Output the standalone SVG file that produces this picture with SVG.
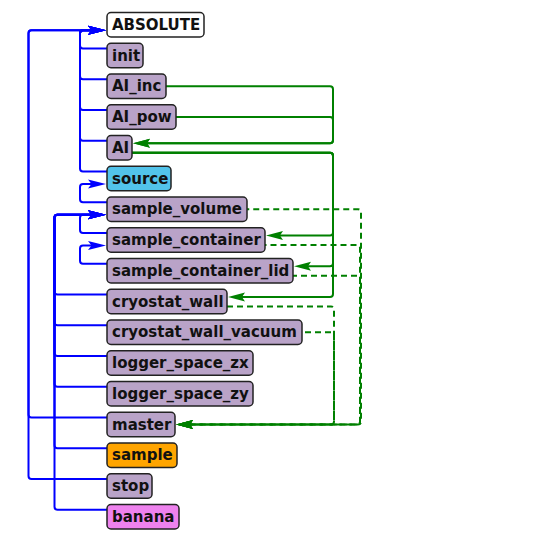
<svg xmlns="http://www.w3.org/2000/svg" width="555" height="543" viewBox="0 0 555 543">
<style>
.n rect{stroke:#222;stroke-width:1.5}
.n text{font-family:"DejaVu Sans","Liberation Sans",sans-serif;font-weight:bold;font-size:15px;fill:#111}
.p rect{fill:#b9a3c8}
.b{fill:none;stroke:#0000ff;stroke-width:2;marker-end:url(#ab)}
.g{fill:none;stroke:#008000;stroke-width:2;marker-end:url(#ag)}
.d{fill:none;stroke:#008000;stroke-width:2;stroke-dasharray:6 4;marker-end:url(#ag)}
</style>
<defs>
<marker id="ab" markerUnits="userSpaceOnUse" markerWidth="20" markerHeight="12" viewBox="-13 -6 20 12" refX="0" refY="0" orient="auto" overflow="visible">
<path d="M6,0 L-12,-4.6 L-8.5,0 L-12,4.6 z" fill="#0000ff"/>
</marker>
<marker id="ag" markerUnits="userSpaceOnUse" markerWidth="20" markerHeight="12" viewBox="-13 -6 20 12" refX="0" refY="0" orient="auto" overflow="visible">
<path d="M6,0 L-11,-4.4 L-8,0 L-11,4.4 z" fill="#008000"/>
</marker>
</defs>
<g id="connectors">
<path class="b" d="M107 48.5H83Q80 48.5 80 45.5V33.25Q80 30.25 83 30.25H100"/>
<path class="b" d="M107 79.25H83Q80 79.25 80 76.25V33.25Q80 30.25 83 30.25H100"/>
<path class="b" d="M107 110H83Q80 110 80 107V33.25Q80 30.25 83 30.25H100"/>
<path class="b" d="M107 140.75H83Q80 140.75 80 137.75V33.25Q80 30.25 83 30.25H100"/>
<path class="b" d="M107 171.5H83Q80 171.5 80 168.5V33.25Q80 30.25 83 30.25H100"/>
<path class="b" d="M107 417.5H31.5Q28.5 417.5 28.5 414.5V33.25Q28.5 30.25 31.5 30.25H100"/>
<path class="b" d="M107 479H31.5Q28.5 479 28.5 476V33.25Q28.5 30.25 31.5 30.25H100"/>
<path class="b" d="M107 202.25H83Q80 202.25 80 199.25V187Q80 184 83 184H100"/>
<path class="b" d="M107 233H83Q80 233 80 230V217.75Q80 214.75 83 214.75H100"/>
<path class="b" d="M107 263.75H83Q80 263.75 80 260.75V248.5Q80 245.5 83 245.5H100"/>
<path class="b" d="M107 294.5H57.5Q54.5 294.5 54.5 291.5V217.75Q54.5 214.75 57.5 214.75H100"/>
<path class="b" d="M107 325.25H57.5Q54.5 325.25 54.5 322.25V217.75Q54.5 214.75 57.5 214.75H100"/>
<path class="b" d="M107 356H57.5Q54.5 356 54.5 353V217.75Q54.5 214.75 57.5 214.75H100"/>
<path class="b" d="M107 386.75H57.5Q54.5 386.75 54.5 383.75V217.75Q54.5 214.75 57.5 214.75H100"/>
<path class="b" d="M107 448.25H57.5Q54.5 448.25 54.5 445.25V217.75Q54.5 214.75 57.5 214.75H100"/>
<path class="b" d="M107 509.75H57.5Q54.5 509.75 54.5 506.75V217.75Q54.5 214.75 57.5 214.75H100"/>
<path class="g" d="M166 86.25H330Q333 86.25 333 89.25V140.25Q333 143.25 330 143.25H139"/>
<path class="g" d="M176 117H330Q333 117 333 120V140.25Q333 143.25 330 143.25H139"/>
<path class="g" d="M132 152.75H330Q333 152.75 333 155.75V232.5Q333 235.5 330 235.5H272"/>
<path class="g" d="M132 152.75H330Q333 152.75 333 155.75V263.25Q333 266.25 330 266.25H300"/>
<path class="g" d="M132 152.75H330Q333 152.75 333 155.75V294Q333 297 330 297H234"/>
<path class="d" stroke-dashoffset="3.75" d="M247 209.25H358Q361 209.25 361 212.25V421.5Q361 424.5 358 424.5H182"/>
<path class="d" stroke-dashoffset="4.5" d="M265 245H357Q360 245 360 248V421.5Q360 424.5 357 424.5H182"/>
<path class="d" stroke-dashoffset="2" d="M293 275.75H357Q360 275.75 360 278.75V421.5Q360 424.5 357 424.5H182"/>
<path class="d" stroke-dashoffset="0" d="M227 306.5H331Q334 306.5 334 309.5V421.5Q334 424.5 331 424.5H182"/>
<path class="d" stroke-dashoffset="7" d="M302 332.25H331Q334 332.25 334 335.25V421.5Q334 424.5 331 424.5H182"/>
</g>
<g id="ABSOLUTE" class="n"><rect x="107" y="12.5" width="97" height="24.5" rx="4" fill="#fff"/><text x="112" y="29.75">ABSOLUTE</text></g>
<g id="init" class="n p"><rect x="107" y="43.25" width="36" height="24.5" rx="4"/><text x="112" y="60.5">init</text></g>
<g id="AI_inc" class="n p"><rect x="107" y="74" width="59" height="24.5" rx="4"/><text x="112" y="91.25">AI_inc</text></g>
<g id="AI_pow" class="n p"><rect x="107" y="104.75" width="69" height="24.5" rx="4"/><text x="112" y="122">AI_pow</text></g>
<g id="AI" class="n p"><rect x="107" y="135.5" width="25" height="24.5" rx="4"/><text x="112" y="152.75">AI</text></g>
<g id="source" class="n"><rect x="107" y="166.25" width="64" height="24.5" rx="4" fill="#52c3ea"/><text x="112" y="183.5">source</text></g>
<g id="sample_volume" class="n p"><rect x="107" y="197" width="140" height="24.5" rx="4"/><text x="112" y="214.25">sample_volume</text></g>
<g id="sample_container" class="n p"><rect x="107" y="227.75" width="158" height="24.5" rx="4"/><text x="112" y="245">sample_container</text></g>
<g id="sample_container_lid" class="n p"><rect x="107" y="258.5" width="186" height="24.5" rx="4"/><text x="112" y="275.75">sample_container_lid</text></g>
<g id="cryostat_wall" class="n p"><rect x="107" y="289.25" width="120" height="24.5" rx="4"/><text x="112" y="306.5">cryostat_wall</text></g>
<g id="cryostat_wall_vacuum" class="n p"><rect x="107" y="320" width="195" height="24.5" rx="4"/><text x="112" y="337.25">cryostat_wall_vacuum</text></g>
<g id="logger_space_zx" class="n p"><rect x="107" y="350.75" width="146" height="24.5" rx="4"/><text x="112" y="368">logger_space_zx</text></g>
<g id="logger_space_zy" class="n p"><rect x="107" y="381.5" width="146" height="24.5" rx="4"/><text x="112" y="398.75">logger_space_zy</text></g>
<g id="master" class="n p"><rect x="107" y="412.25" width="68" height="24.5" rx="4"/><text x="112" y="429.5">master</text></g>
<g id="sample" class="n"><rect x="107" y="443" width="70" height="24.5" rx="4" fill="#ffa500"/><text x="112" y="460.25">sample</text></g>
<g id="stop" class="n p"><rect x="107" y="473.75" width="45" height="24.5" rx="4"/><text x="112" y="491">stop</text></g>
<g id="banana" class="n"><rect x="107" y="504.5" width="72" height="24.5" rx="4" fill="#ee82ee"/><text x="112" y="521.75">banana</text></g>
</svg>
